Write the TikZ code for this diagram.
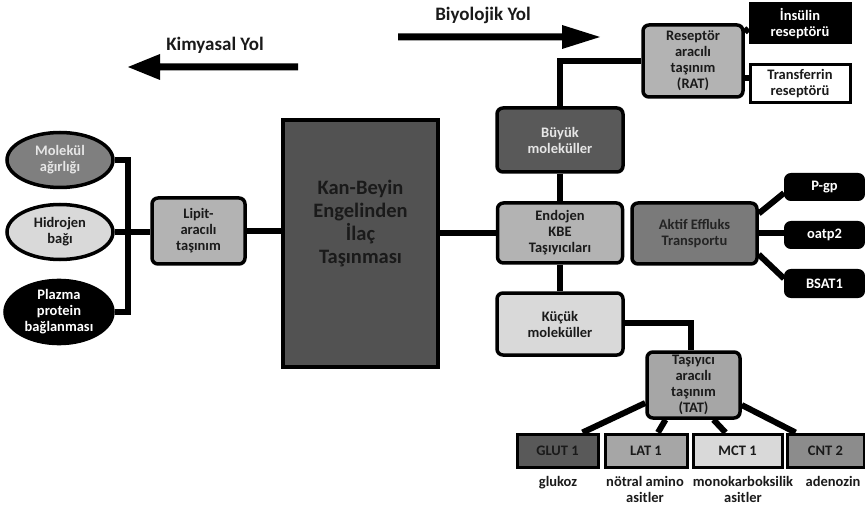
\documentclass[tikz,border=0pt]{standalone}
\usepackage{fontspec}
\setmainfont{Carlito}
\usetikzlibrary{shapes.geometric}
\definecolor{gmid}{HTML}{7F7F7F}
\definecolor{glight}{HTML}{D9D9D9}
\definecolor{gbox}{HTML}{B3B3B3}
\definecolor{gkbe}{HTML}{525252}
\definecolor{gdark}{HTML}{595959}
\definecolor{gakt}{HTML}{7A7A7A}
\definecolor{gtat}{HTML}{A6A6A6}
\definecolor{gcnt}{HTML}{8C8C8C}
\definecolor{tlight}{HTML}{E6E6E6}
\definecolor{tdark}{HTML}{1A1A1A}
\begin{document}
\begin{tikzpicture}[x=1pt,y=-1pt,
  conn/.style={line width=6pt},
  txt/.style={font=\bfseries\fontsize{14.5}{16}\selectfont},
  rbox/.style={txt, draw=black, line width=3.5pt, rounded corners=6pt, align=center, inner sep=0pt, text=tdark},
  sbox/.style={txt, draw=black, line width=3pt, align=center, inner sep=0pt, text=tdark},
  ell/.style={txt, ellipse, draw=black, line width=3.5pt, align=center, inner sep=0pt, minimum width=106pt, minimum height=55pt, text=tdark},
  lab/.style={txt, align=center, anchor=north, text=tdark},
  pill/.style={txt, draw=black, fill=black, text=white, line width=2pt, rounded corners=6pt, inner sep=0pt, minimum width=79pt, minimum height=26pt},
  bot/.style={sbox, minimum height=33pt},
  ttl/.style={font=\bfseries\fontsize{19}{22}\selectfont, text=tdark},
]
\useasboundingbox (0,0) rectangle (865,505);

% top arrows
\node[ttl] (kim) at (215,45) {Kimyasal Yol};
\node[ttl] (biy) at (483,15) {Biyolojik Yol};
\fill[black] (298,63.5) -- (160,63.5) -- (160,54) -- (128,67) -- (160,80) -- (160,70.5) -- (298,70.5) -- cycle;
\fill[black] (398,33.5) -- (562,33.5) -- (562,25) -- (600,37) -- (562,49) -- (562,40.5) -- (398,40.5) -- cycle;

% left side
\node[ell, fill=gmid, text=tlight] (mol) at (60,160) {Molekül\\ağırlığı};
\node[ell, fill=glight] (hid) at (60,232) {Hidrojen\\bağı};
\node[ell, fill=black, text=white, minimum width=108pt, minimum height=61pt] (pla) at (59,312) {Plazma\\protein\\bağlanması};
\node[rbox, fill=gbox, minimum width=93pt, minimum height=66pt] (lip) at (198.5,231) {Lipit-\\aracılı\\taşınım};
\coordinate (bus) at (128,232);

% centre
\node[draw=black, line width=4pt, fill=gkbe, minimum width=155pt, minimum height=247pt,
  label={[font=\bfseries\fontsize{20.5}{23}\selectfont, align=center, text=tdark, yshift=19.5pt]center:Kan-Beyin\\Engelinden\\İlaç\\Taşınması}] (kbe) at (360.5,243.5) {};

% right column
\node[rbox, fill=gdark, text=tlight, minimum width=126pt, minimum height=64pt] (buy) at (560,140) {Büyük\\moleküller};
\node[rbox, fill=gbox, minimum width=125pt, minimum height=60pt] (endo) at (560,233) {Endojen\\KBE\\Taşıyıcıları};
\node[rbox, fill=glight, minimum width=126pt, minimum height=62pt] (kuc) at (560,324) {Küçük\\moleküller};

\node[rbox, fill=gbox, minimum width=100pt, minimum height=72pt] (rat) at (693,61) {Reseptör\\aracılı\\taşınım\\(RAT)};
\node[sbox, fill=black, text=white, minimum width=100pt, minimum height=39pt] (ins) at (800,23.5) {İnsülin\\reseptörü};
\node[sbox, fill=white, minimum width=100pt, minimum height=38pt] (tra) at (800,84) {Transferrin\\reseptörü};

\node[rbox, fill=gakt, text=tdark!90!gakt, minimum width=125pt, minimum height=61pt] (akt) at (694.5,233.5) {Aktif Effluks\\Transportu};
\node[pill] (pgp) at (824.5,187) {P-gp};
\node[pill] (oatp) at (824.5,235) {oatp2};
\node[pill, minimum height=27pt] (bsat) at (824.5,283.5) {BSAT1};

\node[rbox, fill=gtat, minimum width=93pt, minimum height=66pt] (tat) at (693.5,385) {Taşıyıcı\\aracılı\\taşınım\\(TAT)};

\node[bot, fill=gdark, minimum width=81pt] (glut) at (557.5,450.5) {GLUT 1};
\node[bot, fill=gtat, minimum width=82pt] (lat) at (646,450.5) {LAT 1};
\node[bot, fill=glight, minimum width=89pt] (mct) at (737.5,450.5) {MCT 1};
\node[bot, fill=gcnt, minimum width=77pt] (cnt) at (825.5,450.5) {CNT 2};

\node[lab] (l1) at (558,473) {glukoz};
\node[lab] (l2) at (645,473) {nötral amino\\asitler};
\node[lab] (l3) at (743,473) {monokarboksilik\\asitler};
\node[lab] (l4) at (833,473) {adenozin};

% connectors
\begin{scope}[conn]
\draw (mol.east) -| (bus);
\draw (pla.east) -| (bus);
\draw (hid.east) -- (hid.east -| lip.west);
\draw (lip.east) -- (lip.east -| kbe.west);
\draw (kbe.east |- endo.west) -- (endo.west);
\draw (buy.south) -- (endo.north);
\draw (endo.south) -- (kuc.north);
\draw (buy.north) |- (rat.west);
\draw ([yshift=29pt]rat.east) -- ([yshift=-5pt]ins.west);
\draw ([yshift=-17pt]rat.east) -- ([yshift=6pt]tra.west);
\draw ([yshift=20pt]akt.east) -- ([yshift=-6pt]pgp.west);
\draw (akt.east) -- (akt.east -| oatp.west);
\draw ([yshift=-21pt]akt.east) -- ([yshift=5pt]bsat.west);
\draw ([yshift=1pt]kuc.east) -| ([xshift=-3pt]tat.north);
\draw ([yshift=-18pt]tat.west) -- ([xshift=25pt]glut.north);
\draw ([xshift=-28pt]tat.south) -- ([xshift=12pt]lat.north);
\draw ([xshift=20pt]tat.south) -- ([xshift=-12pt]mct.north);
\draw ([yshift=-20pt]tat.east) -- ([xshift=-30pt]cnt.north);
\end{scope}
\end{tikzpicture}
\end{document}
